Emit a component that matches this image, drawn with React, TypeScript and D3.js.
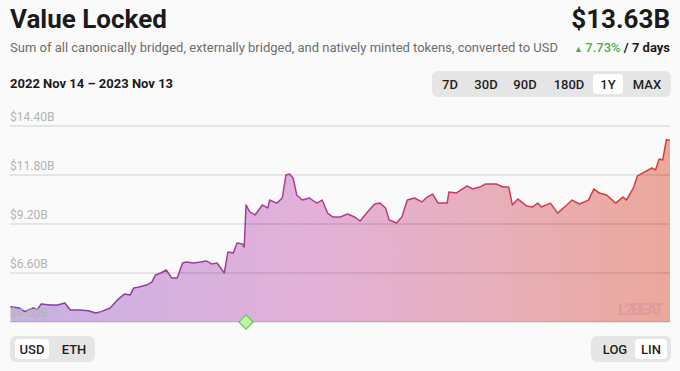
import React from "react";
import * as d3 from "d3";

const startDate = new Date(2022, 10, 14);
const endDate = new Date(2023, 10, 13);

// day offsets from 2022 Nov 14
const dayOffsets = [
  0, 5, 8, 12, 15, 17, 22, 26, 30, 33, 38, 43, 47, 50, 55, 59, 63, 66, 68, 71,
  75, 78, 80, 83, 86, 89, 92, 95, 97, 101, 105, 108, 111, 114, 118, 120, 123, 125, 128, 129,
  130, 132, 135, 139, 142, 143, 147, 150, 152, 154, 156, 158, 161, 165, 169, 172, 175, 178, 182, 186,
  190, 193, 197, 201, 204, 207, 209, 213, 216, 219, 223, 227, 230, 233, 236, 241, 242, 246, 252, 255,
  259, 262, 268, 272, 275, 277, 280, 285, 288, 291, 293, 298, 302, 307, 310, 314, 319, 322, 325, 329,
  334, 338, 340, 344, 346, 349, 354, 356, 358, 360, 362, 364,
];

// value locked, billions USD
const valuesB = [
  4.81, 4.74, 4.55, 4.74, 4.69, 4.96, 4.9, 4.9, 5.01, 4.64, 4.64, 4.6, 4.48, 4.55, 4.74, 5.17, 5.49, 5.43, 5.8, 5.86,
  5.96, 6.12, 6.49, 6.6, 6.76, 6.33, 6.33, 7.13, 7.18, 7.13, 7.18, 7.24, 7.08, 7.13, 6.6, 7.71, 7.66, 8.19, 8.14, 7.98,
  10.21, 9.84, 9.68, 10.21, 10.05, 10.47, 10.31, 10.58, 11.8, 11.85, 11.64, 10.74, 10.47, 10.58, 10.31, 10.47, 9.78, 9.57, 9.57, 9.73,
  9.57, 9.36, 9.84, 10.26, 10.31, 10.05, 9.41, 9.25, 9.57, 10.47, 10.58, 10.37, 10.63, 10.79, 10.31, 10.31, 10.9, 10.84, 11.22, 11.06,
  11.16, 11.32, 11.32, 11.16, 11.16, 10.21, 10.53, 10.15, 10.1, 10.31, 10.1, 10.31, 9.78, 10.21, 10.47, 10.26, 10.47, 11.06, 10.84, 10.74,
  10.31, 10.63, 10.47, 11.16, 11.75, 11.91, 12.17, 12.07, 12.65, 12.6, 13.68, 13.63,
];

const yTicks = [4.0, 6.6, 9.2, 11.8, 14.4];
const markerDay = 130;
const rangeButtons = ["7D", "30D", "90D", "180D", "1Y", "MAX"];
const selectedRange = "1Y";
const currencyButtons = ["USD", "ETH"];
const selectedCurrency = "USD";
const scaleButtons = ["LOG", "LIN"];
const selectedScale = "LIN";

const FONT = "Roboto, 'Noto Sans', sans-serif";

export default function App() {
  const W = 680;
  const H = 371;
  const x = d3.scaleTime().domain([startDate, endDate]).range([10.5, 670]);
  const y = d3.scaleLinear().domain([4, 14.4]).range([322, 126]);

  const data = dayOffsets.map((d, i) => ({ date: d3.timeDay.offset(startDate, d), v: valuesB[i] }));
  const line = d3.line<any>().x((d) => x(d.date)).y((d) => y(d.v));
  const area = d3
    .area<any>()
    .x((d) => x(d.date))
    .y0(y(4))
    .y1((d) => y(d.v));

  const mx = x(d3.timeDay.offset(startDate, markerDay));
  const my = y(4);

  const fmt = (v: number) => "$" + v.toFixed(2) + "B";

  const group = (
    labels: string[],
    selected: string,
    gx: number,
    gy: number,
    h: number,
    centers: number[],
    widths: number[]
  ) => (
    <g>
      <rect x={gx} y={gy} width={centers[centers.length - 1] + widths[widths.length - 1] / 2 + 4 - gx} height={h} rx={6} fill="#e5e5e5" />
      {labels.map((l, i) => (
        <g key={l}>
          {l === selected && (
            <rect x={centers[i] - widths[i] / 2} y={gy + 3} width={widths[i]} height={h - 6} rx={4} fill="#ffffff" />
          )}
          <text x={centers[i]} y={gy + h / 2 + 4.5} textAnchor="middle" fontSize={13} fontWeight={500} fill="#1f1f1f" fontFamily={FONT}>
            {l}
          </text>
        </g>
      ))}
    </g>
  );

  return (
    <div style={{ width: W, height: H }}>
      <style>{`body{margin:0;background:#fafafa}`}</style>
      <svg width={W} height={H} style={{ display: "block", background: "#fafafa" }}>
        <defs>
          <linearGradient id="fillG" gradientUnits="userSpaceOnUse" x1={10} x2={670} y1={0} y2={0}>
            <stop offset="0" stopColor="#c7b1e4" />
            <stop offset="0.45" stopColor="#e2b0d9" />
            <stop offset="0.75" stopColor="#e8afb8" />
            <stop offset="1" stopColor="#eba89b" />
          </linearGradient>
          <linearGradient id="lineG" gradientUnits="userSpaceOnUse" x1={10} x2={670} y1={0} y2={0}>
            <stop offset="0" stopColor="#7a42a8" />
            <stop offset="0.45" stopColor="#b43a98" />
            <stop offset="0.75" stopColor="#cc3a5a" />
            <stop offset="1" stopColor="#d9412a" />
          </linearGradient>
        </defs>

        {/* header */}
        <text x={10} y={28} fontSize={26} fontWeight={700} fill="#1b1b1b" fontFamily={FONT}>
          Value Locked
        </text>
        <text x={670} y={28} fontSize={26} fontWeight={700} fill="#1b1b1b" textAnchor="end" fontFamily={FONT}>
          $13.63B
        </text>
        <text x={10} y={52} fontSize={13} fill="#6d6d6d" fontFamily={FONT}>
          Sum of all canonically bridged, externally bridged, and natively minted tokens, converted to USD
        </text>
        <text x={670} y={52} fontSize={13} textAnchor="end" fontFamily={FONT}>
          <tspan fill="#4caf50" fontSize={9}>▲ </tspan>
          <tspan fill="#4caf50" fontWeight={500}>7.73%</tspan>
          <tspan fill="#1b1b1b" fontWeight={700}> / 7 days</tspan>
        </text>
        <text x={10} y={88} fontSize={13} fontWeight={700} fill="#1b1b1b" fontFamily={FONT}>
          2022 Nov 14 – 2023 Nov 13
        </text>

        {group(rangeButtons, selectedRange, 432, 71, 26, [450, 486, 525, 569, 608, 647], [24, 30, 30, 38, 30, 40])}

        {/* chart */}
        <path d={area(data) || ""} fill="url(#fillG)" />
        {yTicks.map((t) => (
          <line key={t} x1={10} x2={670} y1={y(t)} y2={y(t)} stroke="rgba(0,0,0,0.17)" strokeWidth={1} />
        ))}
        <path d={line(data) || ""} fill="none" stroke="url(#lineG)" strokeWidth={1.5} strokeLinejoin="round" />
        {yTicks.map((t) => (
          <text key={"l" + t} x={10} y={y(t) - 5} fontSize={12} fill="#b3b3b3" fontFamily={FONT}>
            {fmt(t)}
          </text>
        ))}
        <rect
          x={mx - 5}
          y={my - 5}
          width={10}
          height={10}
          transform={`rotate(45 ${mx} ${my})`}
          fill="#c3f5a8"
          stroke="#5fcf4c"
          strokeWidth={1.3}
        />
        <text x={664} y={315} fontSize={17} textAnchor="end" fill="#d9909a" opacity={0.55} fontFamily={FONT} fontWeight={700} textLength={46}>
          L2BEAT
        </text>

        {group(currencyButtons, selectedCurrency, 10, 336, 26, [32, 74], [34, 34])}
        {group(scaleButtons, selectedScale, 591, 336, 26, [615, 651], [34, 32])}
      </svg>
    </div>
  );
}
